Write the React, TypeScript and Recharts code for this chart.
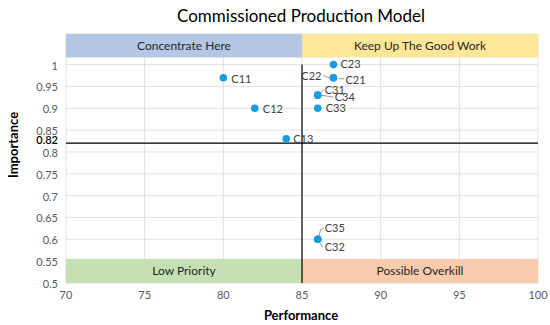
import React from "react";
import {
  ScatterChart,
  Scatter,
  XAxis,
  YAxis,
  CartesianGrid,
  ReferenceArea,
  ReferenceLine,
} from "recharts";

const codes = ["C11", "C12", "C13", "C21", "C22", "C23", "C31", "C32", "C33", "C34", "C35"];
const performance = [80, 82, 84, 87, 87, 87, 86, 86, 86, 86, 86];
const importance = [0.97, 0.9, 0.83, 0.97, 0.97, 1.0, 0.93, 0.6, 0.9, 0.93, 0.6];

const xTicks = [70, 75, 80, 85, 90, 95, 100];
const yTicks = [0.5, 0.55, 0.6, 0.65, 0.7, 0.75, 0.8, 0.82, 0.85, 0.9, 0.95, 1];

const perfCut = 85;
const impCut = 0.82;

const points = codes.map((name, i) => ({ name, x: performance[i], y: importance[i] }));

// label offset from the dot, and optional leader line [x1,y1,x2,y2] relative to dot
const labelPos: Record<string, { dx: number; dy: number; anchor?: string; line?: number[] }> = {
  C11: { dx: 8, dy: 1 },
  C12: { dx: 8, dy: 1 },
  C13: { dx: 7, dy: 0 },
  C23: { dx: 7, dy: 0 },
  C21: { dx: 12, dy: 2, line: [5, 1, 11, 1] },
  C22: { dx: -12, dy: -2, anchor: "end", line: [-10, -2, -4, 0] },
  C31: { dx: 7, dy: -5, line: [2, -2, 6, -5] },
  C34: { dx: 17, dy: 2, line: [3, 0, 16, 2] },
  C33: { dx: 8, dy: 0 },
  C35: { dx: 7, dy: -11, line: [1, -3, 3, -10, 6, -11] },
  C32: { dx: 7, dy: 8, line: [1, 2, 5, 8] },
};

const Dot = (props: any) => {
  const { cx, cy, payload } = props;
  const p = labelPos[payload.name] || { dx: 7, dy: 0 };
  let line = null;
  if (p.line) {
    const pts = [];
    for (let i = 0; i < p.line.length; i += 2) pts.push(`${cx + p.line[i]},${cy + p.line[i + 1]}`);
    line = <polyline points={pts.join(" ")} fill="none" stroke="#7f7f7f" strokeWidth={0.8} />;
  }
  return (
    <g>
      <circle cx={cx} cy={cy} r={3.8} fill="#1a9be0" />
      {line}
      <text
        x={cx + p.dx}
        y={cy + p.dy}
        dy="0.35em"
        textAnchor={p.anchor || "start"}
        fontSize={11}
        fill="#404040"
        fontFamily="Lato, sans-serif"
      >
        {payload.name}
      </text>
    </g>
  );
};

const YTick = (props: any) => {
  const { x, y, payload } = props;
  const special = payload.value === impCut;
  return (
    <text
      x={x}
      y={y}
      dy={special ? "0.1em" : "0.45em"}
      textAnchor="end"
      fontSize={11}
      fill={special ? "#000" : "#595959"}
      fontWeight={special ? 600 : 400}
      fontFamily="Lato, sans-serif"
    >
      {payload.value}
    </text>
  );
};

const bannerLabel = (value: string) => ({
  value,
  position: "center" as const,
  fill: "#262626",
  fontSize: 12,
  fontFamily: "Lato, sans-serif",
});

export default function App() {
  return (
    <div style={{ width: 550, height: 325, fontFamily: "Lato, sans-serif", position: "relative" }}>
      <style>{"body{margin:0}"}</style>
      <ScatterChart width={550} height={325} margin={{ top: 34, right: 12, bottom: 0, left: 0 }}>
        <text x={301} y={16} dy="0.35em" textAnchor="middle" fontSize={17} fill="#000" fontFamily="Lato, sans-serif">
          Commissioned Production Model
        </text>
        <text
          transform="translate(13,145) rotate(-90)"
          textAnchor="middle"
          dy="0.35em"
          fontSize={13}
          fontWeight={700}
          fill="#000"
          fontFamily="Lato, sans-serif"
        >
          Importance
        </text>
        <text x={301} y={315} dy="0.35em" textAnchor="middle" fontSize={13} fontWeight={700} fill="#000" fontFamily="Lato, sans-serif">
          Performance
        </text>
        <CartesianGrid stroke="#d9d9d9" strokeWidth={0.8} />
        <XAxis
          type="number"
          dataKey="x"
          domain={[70, 100]}
          ticks={xTicks}
          axisLine={false}
          tickLine={false}
          height={42}
          tick={{ fontSize: 11, fill: "#595959", fontFamily: "Lato, sans-serif" }}
        />
        <YAxis
          type="number"
          dataKey="y"
          domain={[0.5, 1.07]}
          ticks={yTicks}
          axisLine={false}
          tickLine={false}
          width={66}
          interval={0}
          tick={<YTick />}
        />
        <ReferenceArea x1={70} x2={perfCut} y1={1.016} y2={1.07} fill="#b4c7e7" fillOpacity={1} stroke="none" label={bannerLabel("Concentrate Here")} />
        <ReferenceArea x1={perfCut} x2={100} y1={1.016} y2={1.07} fill="#ffe699" fillOpacity={1} stroke="none" label={bannerLabel("Keep Up The Good Work")} />
        <ReferenceArea x1={70} x2={perfCut} y1={0.5} y2={0.555} fill="#c5e0b4" fillOpacity={1} stroke="none" label={bannerLabel("Low Priority")} />
        <ReferenceArea x1={perfCut} x2={100} y1={0.5} y2={0.555} fill="#f8cbad" fillOpacity={1} stroke="none" label={bannerLabel("Possible Overkill")} />
        <ReferenceLine y={impCut} stroke="#000" strokeWidth={1.2} />
        <ReferenceLine
          segment={[
            { x: perfCut, y: 0.5 },
            { x: perfCut, y: 1 },
          ]}
          stroke="#000"
          strokeWidth={1.2}
        />
        <Scatter data={points} shape={<Dot />} isAnimationActive={false} />
      </ScatterChart>
    </div>
  );
}
